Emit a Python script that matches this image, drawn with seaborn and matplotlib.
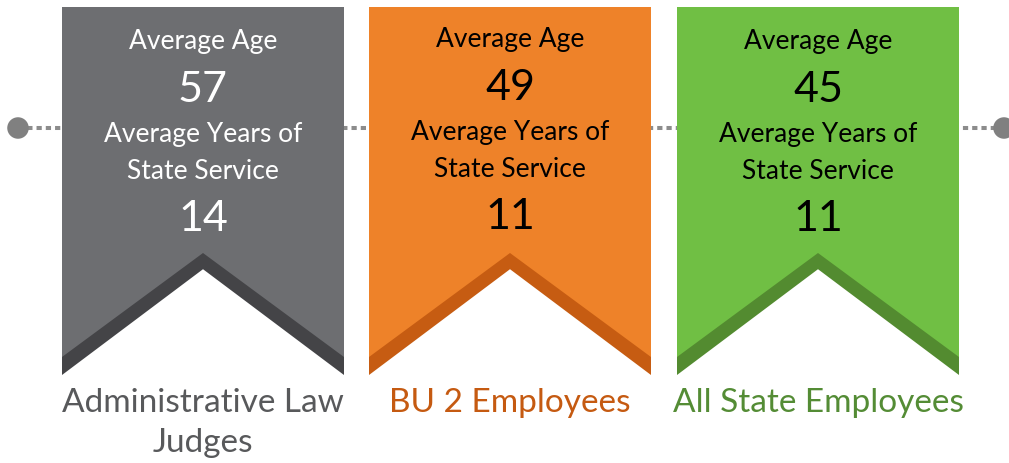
import matplotlib
matplotlib.use("Agg")
import matplotlib.pyplot as plt
from matplotlib.patches import Polygon
import seaborn as sns
import pandas as pd

# ---- data ----
groups = ["Administrative Law\nJudges", "BU 2 Employees", "All State Employees"]
avg_age = [57, 49, 45]
avg_service = [14, 11, 11]
fill_colors = ["#6D6E71", "#EE8229", "#70BF44"]
band_colors = ["#444447", "#C65C12", "#538B30"]
value_text_colors = ["white", "black", "black"]
label_colors = ["#58595B", "#C55A11", "#548C35"]

sns.set_theme(style="white")
plt.rcParams['font.family'] = ['Lato', 'DejaVu Sans']

fig = plt.figure(figsize=(10.09, 4.64), dpi=100)
ax = fig.add_axes([0, 0, 1, 1])
ax.set_xlim(0, 1009)
ax.set_ylim(464, 0)
ax.axis("off")

# connector dotted line with end dots
conn = pd.DataFrame({"x": [18, 1004], "y": [129, 129]})
sns.lineplot(data=conn, x="x", y="y", ax=ax, color="#8C8C8C", lw=2.9,
             dashes=False, zorder=1)
ax.lines[-1].set_dashes((1.3, 1.0))
ax.lines[-1].set_dash_capstyle("butt")
sns.scatterplot(data=conn, x="x", y="y", ax=ax, color="#808080", s=240,
                edgecolor="none", zorder=2)

lefts = [62, 369, 677]
width = 282
top = 8
side_bottom = 376
band = 18
notch_rise = 122

for i, g in enumerate(groups):
    l = lefts[i]
    r = l + width
    c = l + width / 2
    ax.add_patch(Polygon([(l, top), (r, top), (r, side_bottom), (c, side_bottom - notch_rise + band * 0.9),
                          (l, side_bottom)], closed=True, facecolor=band_colors[i],
                         edgecolor="none", zorder=3))
    ax.add_patch(Polygon([(l, top), (r, top), (r, side_bottom - band), (c, side_bottom - notch_rise),
                          (l, side_bottom - band)], closed=True, facecolor=fill_colors[i],
                         edgecolor="none", zorder=4))
    tc = value_text_colors[i]
    dy = 0 if i == 1 else 2
    ax.text(c, 40 + dy, "Average Age", ha="center", va="center", fontsize=19, color=tc, zorder=5)
    ax.text(c, 88 + dy, str(avg_age[i]), ha="center", va="center", fontsize=31, color=tc, zorder=5)
    ax.text(c, 133 + dy, "Average Years of", ha="center", va="center", fontsize=19, color=tc, zorder=5)
    ax.text(c, 170 + dy, "State Service", ha="center", va="center", fontsize=19, color=tc, zorder=5)
    ax.text(c, 217 + dy, str(avg_service[i]), ha="center", va="center", fontsize=31, color=tc, zorder=5)
    if "\n" in g:
        ax.text(c, 423, g, ha="center", va="center", fontsize=24, color=label_colors[i],
                linespacing=1.4, zorder=5)
    else:
        ax.text(c, 403, g, ha="center", va="center", fontsize=24, color=label_colors[i], zorder=5)

fig.savefig("out.png", dpi=100)
